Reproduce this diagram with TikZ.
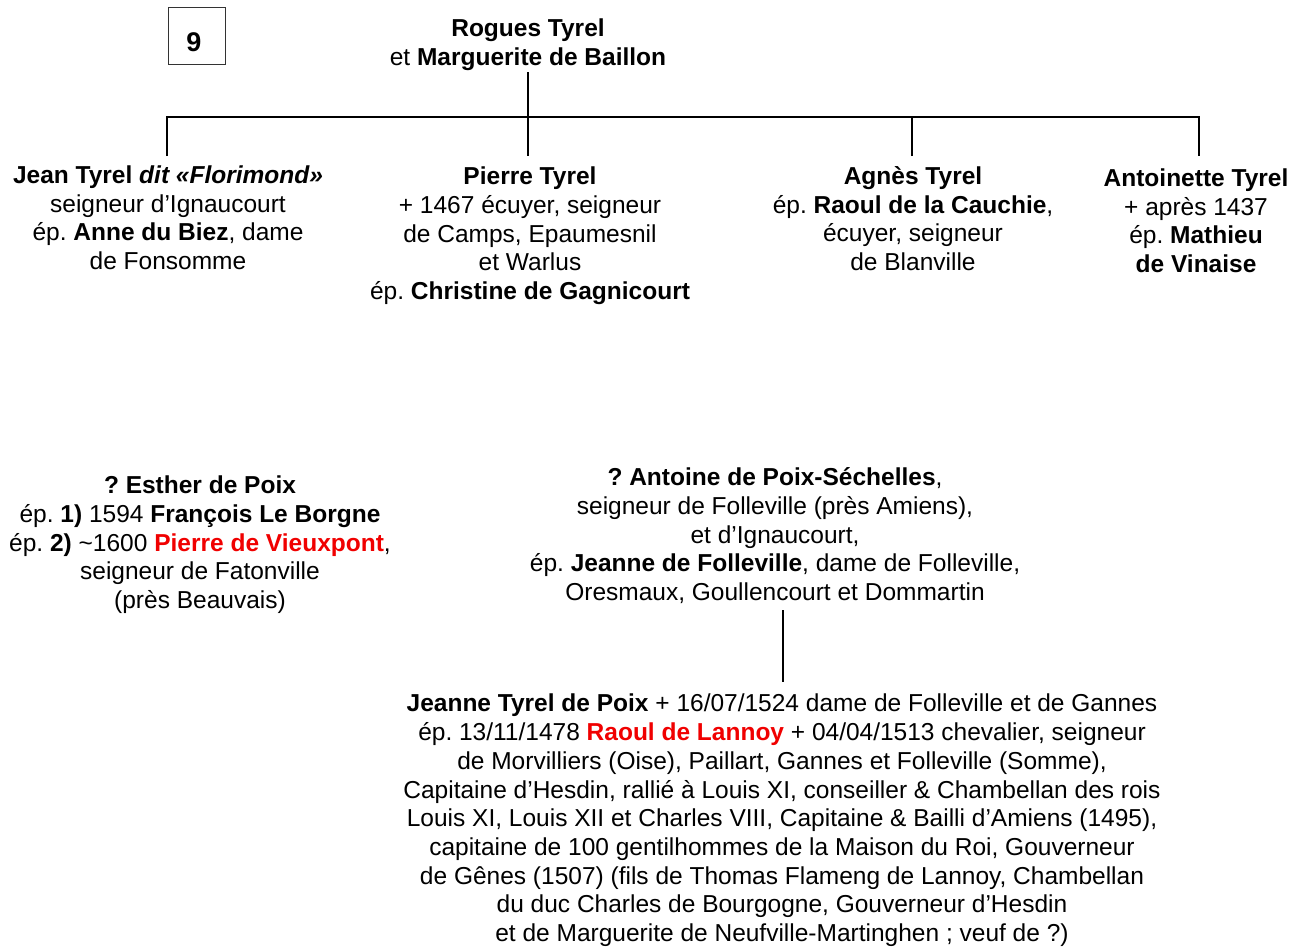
\documentclass[tikz,border=0pt]{standalone}
\usepackage{fontspec}
\setmainfont{Liberation Sans}
\definecolor{lred}{RGB}{240,0,0}
\begin{document}
\frenchspacing
\begin{tikzpicture}[x=1pt,y=-1pt,
  txt/.style={align=center,anchor=base,inner sep=0pt,font=\fontsize{24.5}{28.7}\selectfont\frenchspacing},
  conn/.style={line width=2pt,black},
  numbox/.style={draw=black!80,line width=1pt,minimum width=57pt,minimum height=57pt,inner sep=0pt},
  numtxt/.style={inner sep=0pt,font=\fontsize{27}{30}\selectfont\bfseries}]
\useasboundingbox (0,0) rectangle (1297,948);
\node[numbox] (num) at (197,36) {};
\node[numtxt] (numlabel) at (194,42) {9};
\node[txt] (rt) at (528,65.5) {\textbf{Rogues Tyrel}\\et \textbf{Marguerite de Baillon}};
\node[txt] (jean) at (168,269.5) {\textbf{Jean Tyrel \textit{dit «Florimond»}}\\seigneur d’Ignaucourt\\ép. \textbf{Anne du Biez}, dame\\de Fonsomme};
\node[txt] (pierre) at (530,299.5) {\textbf{Pierre Tyrel}\\+ 1467 écuyer, seigneur\\de Camps, Epaumesnil\\et Warlus\\ép. \textbf{Christine de Gagnicourt}};
\node[txt] (agnes) at (913,270.5) {\textbf{Agnès Tyrel}\\ép. \textbf{Raoul de la Cauchie},\\écuyer, seigneur\\de Blanville};
\node[txt] (antoinette) at (1196,272.5) {\textbf{Antoinette Tyrel}\\+ après 1437\\ép. \textbf{Mathieu}\\\textbf{de Vinaise}};
\node[txt] (esther) at (200,608.5) {\textbf{? Esther de Poix}\\ép. \textbf{1)} 1594 \textbf{François Le Borgne}\\ép. \textbf{2)} \textasciitilde1600 \textbf{\color{lred}Pierre de Vieuxpont},\\seigneur de Fatonville\\(près Beauvais)};
\node[txt] (antoine) at (775,600.5) {\textbf{? Antoine de Poix-Séchelles},\\seigneur de Folleville (près Amiens),\\et d’Ignaucourt,\\ép. \textbf{Jeanne de Folleville}, dame de Folleville,\\Oresmaux, Goullencourt et Dommartin};
\node[txt] (jeanne) at (782,941.5) {\textbf{Jeanne Tyrel de Poix} + 16/07/1524 dame de Folleville et de Gannes\\ép. 13/11/1478 \textbf{\color{lred}Raoul de Lannoy} + 04/04/1513 chevalier, seigneur\\de Morvilliers (Oise), Paillart, Gannes et Folleville (Somme),\\Capitaine d’Hesdin, rallié à Louis XI, conseiller \& Chambellan des rois\\Louis XI, Louis XII et Charles VIII, Capitaine \& Bailli d’Amiens (1495),\\capitaine de 100 gentilhommes de la Maison du Roi, Gouverneur\\de Gênes (1507) (fils de Thomas Flameng de Lannoy, Chambellan\\du duc Charles de Bourgogne, Gouverneur d’Hesdin\\et de Marguerite de Neufville-Martinghen ; veuf de ?)};
\coordinate (rtb) at (528,72);
\coordinate (fork) at (528,117);
\coordinate (c1) at (167,156);
\coordinate (c2) at (528,156);
\coordinate (c3) at (912,156);
\coordinate (c4) at (1199,156);
\draw[conn] (rtb) -- (c2);
\draw[conn] (c1) |- (fork) -| (c4);
\draw[conn] (c3) -- (c3 |- fork);
\coordinate (vt) at (783,610);
\coordinate (vb) at (783,682);
\draw[conn] (vt) -- (vb);
\end{tikzpicture}
\end{document}
